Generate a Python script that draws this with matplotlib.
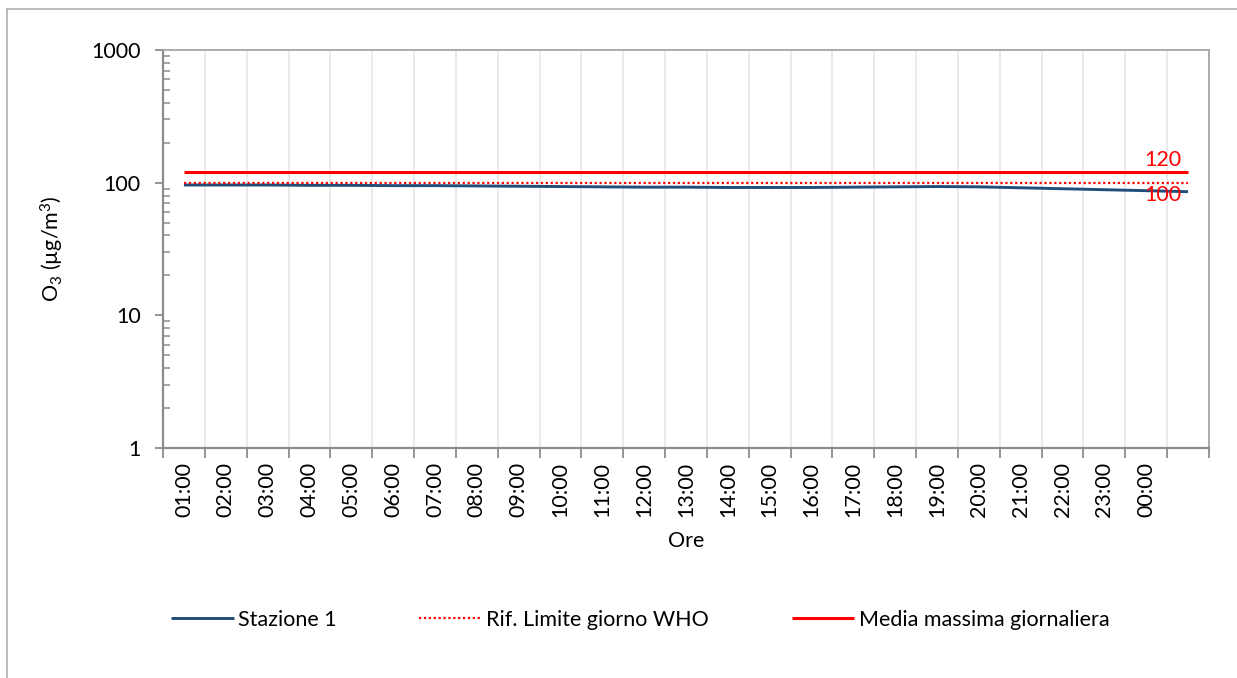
import matplotlib
matplotlib.use("Agg")
import matplotlib.pyplot as plt
from matplotlib.ticker import FixedLocator, NullFormatter, FuncFormatter, LogLocator
from matplotlib.lines import Line2D

categories = ["01:00", "02:00", "03:00", "04:00", "05:00", "06:00", "07:00", "08:00",
              "09:00", "10:00", "11:00", "12:00", "13:00", "14:00", "15:00", "16:00",
              "17:00", "18:00", "19:00", "20:00", "21:00", "22:00", "23:00", "00:00", ""]
stazione_1 = [96, 96, 96, 95.5, 95.5, 95, 95, 94.5, 94, 93.5, 93, 92.5, 92.5,
              92, 92, 92, 92.5, 93, 93.5, 93, 91.5, 90, 88.5, 87, 85.5]
rif_who = [100, 100, 100, 100, 100, 100, 100, 100, 100, 100, 100, 100, 100,
           100, 100, 100, 100, 100, 100, 100, 100, 100, 100, 100, 100]
media_max = [120, 120, 120, 120, 120, 120, 120, 120, 120, 120, 120, 120, 120,
             120, 120, 120, 120, 120, 120, 120, 120, 120, 120, 120, 120]
label_who = "100"
label_media = "120"
y_ticks = [1, 10, 100, 1000]

plt.rcParams['font.family'] = ['Lato', 'DejaVu Sans']
plt.rcParams['mathtext.fontset'] = 'custom'
plt.rcParams['mathtext.rm'] = 'Lato'
plt.rcParams['mathtext.it'] = 'Lato:italic'

FS = 15.5
W, H = 1237, 678
fig = plt.figure(figsize=(W / 100, H / 100), dpi=100)
ax = fig.add_axes([163 / W, 1 - 448 / H, (1209 - 163) / W, (448 - 50) / H])

x = list(range(len(categories)))
ax.plot(x, stazione_1, color='#1F4E79', lw=2.1, label='Stazione 1', solid_capstyle='butt')
ax.plot(x, rif_who, color='#FF0000', lw=1.6, ls=(0, (1, 1.2)), label='Rif. Limite giorno WHO')
ax.plot(x, media_max, color='#FF0000', lw=2.2, label='Media massima giornaliera', solid_capstyle='butt')

ax.text(23.83, media_max[-1] * 1.04, label_media, color='#FF0000', ha='right', va='bottom', fontsize=FS)
ax.text(23.83, rif_who[-1] * 0.965, label_who, color='#FF0000', ha='right', va='top', fontsize=FS)

ax.set_yscale('log')
ax.set_ylim(1, 1000)
ax.set_xlim(-0.5, len(categories) - 0.5)

# y ticks
ax.yaxis.set_major_locator(FixedLocator(y_ticks))
ax.yaxis.set_major_formatter(FuncFormatter(lambda v, p: f"{int(v)}"))
ax.yaxis.set_minor_locator(LogLocator(base=10, subs=range(2, 10)))
ax.yaxis.set_minor_formatter(NullFormatter())
ax.tick_params(axis='y', which='major', direction='out', length=6, width=1.3, color='#8C8C8C',
               labelsize=FS, pad=10)
ax.tick_params(axis='y', which='minor', direction='in', length=5, width=1.1, color='#8C8C8C')

# x ticks: boundaries as major ticks, labels at centers
ax.xaxis.set_major_locator(FixedLocator([i - 0.5 for i in range(len(categories) + 1)]))
ax.xaxis.set_major_formatter(NullFormatter())
ax.xaxis.set_minor_locator(FixedLocator(x))
ax.set_xticklabels(categories, minor=True, rotation=90, fontsize=FS)
ax.tick_params(axis='x', which='major', direction='out', length=7, width=1.3, color='#8C8C8C')
ax.tick_params(axis='x', which='minor', length=0, pad=10)

ax.grid(axis='x', which='major', color='#E6E6E6', lw=1.2)
ax.set_axisbelow(True)

for side in ['left', 'bottom']:
    ax.spines[side].set_color('#8C8C8C')
    ax.spines[side].set_linewidth(1.6)
for side in ['top', 'right']:
    ax.spines[side].set_color('#A6A6A6')
    ax.spines[side].set_linewidth(1.3)

ax.set_xlabel('Ore', fontsize=FS, labelpad=10)
ax.set_ylabel(r'O$_3$ (µg/m$^3$)', fontsize=FS, labelpad=18)

fig.legend(loc='center', bbox_to_anchor=(0.5175, 1 - 620 / H), ncol=3, frameon=False,
           fontsize=FS, handlelength=2.9, handletextpad=0.2, columnspacing=3.85)

# outer chart frame (top and left visible)
fig.add_artist(Line2D([7 / W, 1.0], [1 - 9 / H, 1 - 9 / H], color='#B0B0B0', lw=1.2,
                      transform=fig.transFigure))
fig.add_artist(Line2D([7 / W, 7 / W], [0, 1 - 9 / H], color='#B0B0B0', lw=1.2,
                      transform=fig.transFigure))

fig.savefig('out.png', dpi=100)
